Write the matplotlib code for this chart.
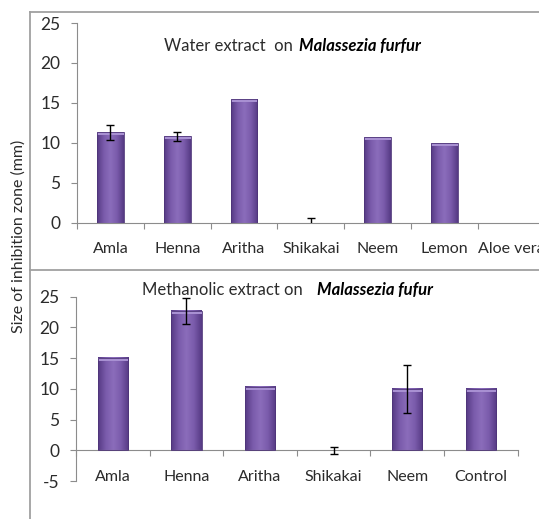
import numpy as np
import matplotlib
matplotlib.use("Agg")
import matplotlib.pyplot as plt
from matplotlib.colors import LinearSegmentedColormap
from matplotlib.lines import Line2D
from matplotlib.patches import Rectangle

plt.rcParams['font.family'] = ['Lato', 'DejaVu Sans']
plt.rcParams['axes.unicode_minus'] = False

# water extract
water_labels = ['Amla', 'Henna', 'Aritha', 'Shikakai', 'Neem', 'Lemon', 'Aloe vera']
water_vals = [11.3, 10.8, 15.5, 0.0, 10.7, 10.0, 0.0]
water_err = [0.9, 0.55, 0.0, 0.55, 0.0, 0.0, 0.0]

# methanolic extract
meth_labels = ['Amla', 'Henna', 'Aritha', 'Shikakai', 'Neem', 'Control']
meth_vals = [15.0, 22.65, 10.3, 0.0, 10.0, 10.0]
meth_err = [0.0, 2.1, 0.0, 0.55, 3.85, 0.0]

W, H = 539, 519
grad = LinearSegmentedColormap.from_list('barg', ['#563a84', '#7a5bab', '#8b6dbb', '#7a5bab', '#563a84'])
grey = '#8c8c8c'
txt = '#2b2b2b'


def px(x, y):
    return x / W, 1 - y / H


def gradient_bars(ax, vals, width, top_px):
    xs = np.arange(len(vals)) + 0.5
    g = np.linspace(0, 1, 64).reshape(1, -1)
    for x, v in zip(xs, vals):
        if v <= 0:
            continue
        ax.imshow(g, extent=[x - width / 2, x + width / 2, 0, v], cmap=grad,
                  aspect='auto', origin='lower', zorder=2, interpolation='bilinear')
        ax.add_patch(Rectangle((x - width / 2, v - top_px), width, top_px,
                               facecolor='#a890d2', edgecolor='none', zorder=3))
        ax.add_patch(Rectangle((x - width / 2, 0), width, v, facecolor='none',
                               edgecolor='#4e3478', linewidth=0.6, zorder=4))
    return xs


def style_axes(ax, n, ylo, yhi):
    ax.set_xlim(0, n)
    ax.set_ylim(ylo, yhi)
    ax.set_yticks(np.arange(ylo, yhi + 1, 5))
    for s in ['top', 'right']:
        ax.spines[s].set_visible(False)
    ax.spines['left'].set_color(grey)
    ax.spines['bottom'].set_color(grey)
    ax.spines['bottom'].set_position(('data', 0))
    ax.set_xticks(np.arange(n + 1))
    ax.set_xticklabels([])
    ax.tick_params(axis='x', length=4, color=grey, direction='out')
    ax.tick_params(axis='y', length=4, color=grey, labelsize=12.5, labelcolor=txt, pad=8)
    ax.patch.set_alpha(0)


fig = plt.figure(figsize=(W / 100, H / 100), dpi=100)

# top panel
l, b = px(77, 222.7)
_, t = px(77, 23)
ax1 = fig.add_axes([l, b, 467.6 / W, t - b])
style_axes(ax1, len(water_labels), 0, 25)
xs = gradient_bars(ax1, water_vals, 0.4, 0.35)
for x, v, e in zip(xs, water_vals, water_err):
    if e > 0:
        ax1.errorbar(x, v, yerr=e, fmt='none', ecolor='black', elinewidth=1,
                     capsize=3, capthick=1, zorder=5)
for x, lab in zip(xs, water_labels):
    ax1.text(x, -3.3, lab, ha='center', va='center', fontsize=11.5, color=txt)
ax1.set_ylim(0, 25)

# bottom panel
l, b = px(76, 481)
_, t = px(76, 296.7)
ax2 = fig.add_axes([l, b, 441.7 / W, t - b])
style_axes(ax2, len(meth_labels), -5, 25)
xs = gradient_bars(ax2, meth_vals, 0.41, 0.45)
for x, v, e in zip(xs, meth_vals, meth_err):
    if e > 0:
        ax2.errorbar(x, v, yerr=e, fmt='none', ecolor='black', elinewidth=1,
                     capsize=3, capthick=1, zorder=5)
for x, lab in zip(xs, meth_labels):
    ax2.text(x, -4.3, lab, ha='center', va='center', fontsize=11.5, color=txt)
ax2.set_ylim(-5, 25)

# titles
x, y = px(293, 46)
fig.text(x, y, 'Water extract  on', ha='right', va='center', fontsize=12, color=txt)
x, y = px(299, 46)
fig.text(x, y, 'Malassezia furfur', ha='left', va='center', fontsize=12,
         fontweight='bold', fontstyle='italic', color='black')
x, y = px(303, 290)
fig.text(x, y, 'Methanolic extract on', ha='right', va='center', fontsize=12, color=txt)
x, y = px(317, 290)
fig.text(x, y, 'Malassezia fufur', ha='left', va='center', fontsize=12,
         fontweight='bold', fontstyle='italic', color='black')

# y label
x, y = px(19, 236)
fig.text(x, y, 'Size of inhibition zone (mm)', rotation=90, ha='center', va='center',
         fontsize=11.5, color=txt)

# frame lines
frame = '#a0a0a0'
fig.add_artist(Line2D([30 / W, 1], [1 - 12 / H, 1 - 12 / H], color=frame, lw=1.3))
fig.add_artist(Line2D([30 / W, 30 / W], [0, 1 - 12 / H], color=frame, lw=1.3))
fig.add_artist(Line2D([30 / W, 1], [1 - 270 / H, 1 - 270 / H], color=frame, lw=1.3))

fig.savefig('out.png', dpi=100)
